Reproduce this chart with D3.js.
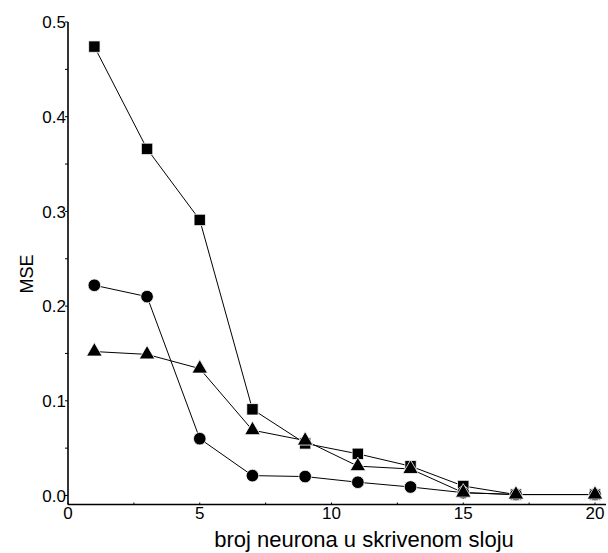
<!DOCTYPE html>
<html>
<head>
<meta charset="utf-8">
<script src="https://cdn.jsdelivr.net/npm/d3@7"></script>
<style>
  body { margin: 0; background: #fff; }
  svg { display: block; font-family: "Liberation Sans", Arial, sans-serif; }
</style>
</head>
<body>
<svg id="chart" width="608" height="553"></svg>
<script>
// Data
const neurons = [1, 3, 5, 7, 9, 11, 13, 15, 17, 20];
const mseSquare = [0.474, 0.366, 0.291, 0.091, 0.055, 0.044, 0.031, 0.010, 0.001, 0.001];
const mseCircle = [0.222, 0.210, 0.060, 0.021, 0.020, 0.014, 0.009, 0.003, 0.001, 0.001];
const mseTriangle = [0.152, 0.149, 0.134, 0.069, 0.058, 0.031, 0.028, 0.003, 0.001, 0.001];
const xTicks = [0, 5, 10, 15, 20];
const yTicks = [0.0, 0.1, 0.2, 0.3, 0.4, 0.5];

const svg = d3.select("#chart");

// Scales
const x = d3.scaleLinear().domain([0, 20]).range([68, 595]);
const y = d3.scaleLinear().domain([0, 0.5]).range([495.5, 22]);
const xEnd = 606;
const yBottom = 504.5;

// X axis
const gx = svg.append("g").attr("transform", "translate(0," + yBottom + ")");
gx.append("line")
  .attr("x1", x(0)).attr("x2", xEnd)
  .attr("stroke", "#000").attr("stroke-width", 1.6);
gx.selectAll(".minor")
  .data(d3.range(0, 20.1, 2.5))
  .enter().append("line")
  .attr("x1", d => x(d)).attr("x2", d => x(d))
  .attr("y1", 0).attr("y2", -2)
  .attr("stroke", "#000").attr("stroke-width", 1);
gx.selectAll("text")
  .data(xTicks)
  .enter().append("text")
  .attr("x", d => x(d))
  .attr("y", 14)
  .attr("text-anchor", "middle")
  .style("font-size", "17px")
  .text(d => d);

// Y axis
const gy = svg.append("g").attr("transform", "translate(" + x(0) + ",0)");
gy.append("line")
  .attr("y1", yBottom).attr("y2", y(0.5))
  .attr("stroke", "#000").attr("stroke-width", 1.6);
gy.selectAll(".tick")
  .data(d3.range(0, 0.501, 0.05))
  .enter().append("line")
  .attr("x1", 0).attr("x2", -3)
  .attr("y1", d => y(d)).attr("y2", d => y(d))
  .attr("stroke", "#000").attr("stroke-width", 1);
gy.selectAll("text")
  .data(yTicks)
  .enter().append("text")
  .attr("x", -2)
  .attr("y", d => y(d))
  .attr("dy", "0.36em")
  .attr("text-anchor", "end")
  .style("font-size", "17px")
  .text(d => d.toFixed(1));

// Axis labels
svg.append("text")
  .attr("x", 364)
  .attr("y", 547)
  .attr("text-anchor", "middle")
  .style("font-size", "22px")
  .text("broj neurona u skrivenom sloju");

svg.append("text")
  .attr("transform", "translate(32.5,274) rotate(-90)")
  .attr("text-anchor", "middle")
  .style("font-size", "18px")
  .text("MSE");

// Series
const series = [
  { values: mseSquare, symbol: d3.symbolSquare, size: 130 },
  { values: mseCircle, symbol: d3.symbolCircle, size: 125 },
  { values: mseTriangle, symbol: d3.symbolTriangle, size: 105 }
];

const line = d3.line()
  .x(d => x(d[0]))
  .y(d => y(d[1]));

series.forEach(s => {
  const pts = neurons.map((n, i) => [n, s.values[i]]);
  svg.append("path")
    .attr("d", line(pts))
    .attr("fill", "none")
    .attr("stroke", "#000")
    .attr("stroke-width", 1);
});

series.forEach(s => {
  const pts = neurons.map((n, i) => [n, s.values[i]]);
  svg.append("g").selectAll("path")
    .data(pts)
    .enter().append("path")
    .attr("transform", d => "translate(" + x(d[0]) + "," + y(d[1]) + ")")
    .attr("d", d3.symbol().type(s.symbol).size(s.size))
    .attr("fill", "#000")
    .attr("stroke", "#fff")
    .attr("stroke-width", 0.8);
});
</script>
</body>
</html>
